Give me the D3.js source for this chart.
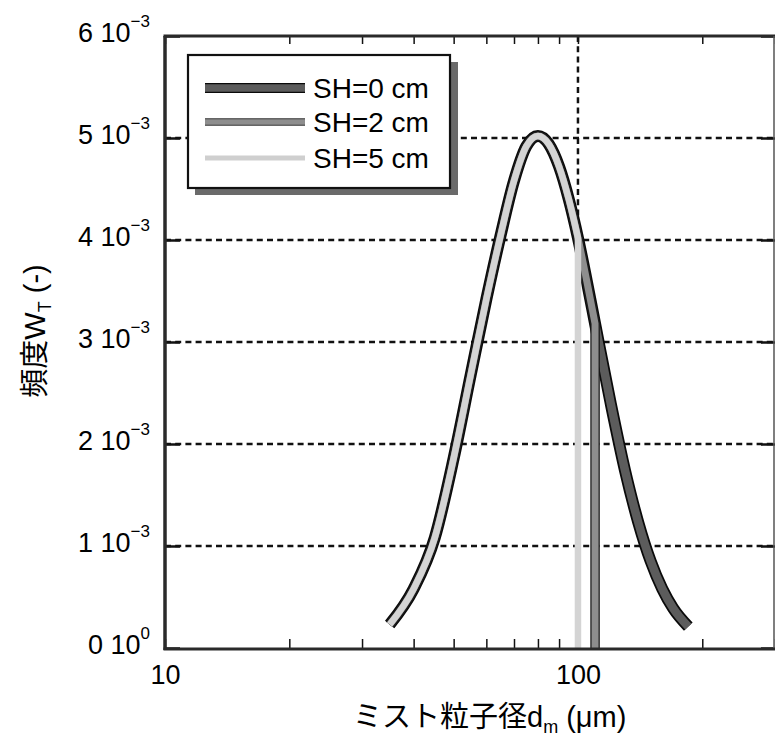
<!DOCTYPE html>
<html>
<head>
<meta charset="utf-8">
<script src="https://cdn.jsdelivr.net/npm/d3@7/dist/d3.min.js"></script>
<style>
  html, body { margin: 0; padding: 0; background: #fff; }
  svg { display: block; }
  text { font-family: "Liberation Sans", Arial, "Noto Sans CJK JP", sans-serif; fill: #000; }
</style>
</head>
<body>
<svg id="chart" width="775" height="737"></svg>
<script>
// ---- data ----
const diameters = [35, 40, 45, 50, 55, 60, 65, 70, 75, 80, 85, 90, 95, 100, 105, 110, 120, 130, 140, 150, 160, 170, 185];
const freqSH0 = [0.23, 0.58, 1.08, 1.86, 2.68, 3.42, 4.05, 4.58, 4.92, 5.02, 4.94, 4.72, 4.40, 4.02, 3.60, 3.18, 2.40, 1.74, 1.23, 0.85, 0.58, 0.39, 0.21]; // ×1e-3
const cutSH2 = 110;   // µm, SH=2 cm distribution truncated here
const cutSH5 = 100;   // µm, SH=5 cm distribution truncated here
const seriesNames = ["SH=0 cm", "SH=2 cm", "SH=5 cm"];
const xTickValues = [10, 20, 30, 40, 50, 60, 70, 80, 90, 100, 200, 300];
const xTickLabels = [10, 100];
const yTickValues = [0, 1, 2, 3, 4, 5, 6];          // ×1e-3
const yTickMantissa = ["0", "1", "2", "3", "4", "5", "6"];
const yTickExponent = ["0", "−3", "−3", "−3", "−3", "−3", "−3"];

// build series
const pts0 = diameters.map((d, i) => ({d: d, v: freqSH0[i]}));
const pts2 = pts0.filter(p => p.d <= cutSH2).concat([{d: cutSH2, v: 0}]);
const pts5 = pts0.filter(p => p.d <= cutSH5).concat([{d: cutSH5, v: 0}]);

const svg = d3.select("#chart");
svg.append("rect").attr("width", 775).attr("height", 737).attr("fill", "#fff");

const L = 165, R = 775, T = 36, B = 648;
const x = d3.scaleLog().domain([10, 300]).range([L, R]);
const y = d3.scaleLinear().domain([0, 6]).range([B, T]);

// gridlines
const grid = svg.append("g");
grid.selectAll("line.h").data([1, 2, 3, 4, 5]).enter().append("line")
  .attr("x1", L).attr("x2", R).attr("y1", d => y(d)).attr("y2", d => y(d))
  .attr("stroke", "#111").attr("stroke-width", 2.5).attr("stroke-dasharray", "6,4.2");
grid.append("line")
  .attr("x1", x(100)).attr("x2", x(100)).attr("y1", T).attr("y2", B)
  .attr("stroke", "#111").attr("stroke-width", 2.5).attr("stroke-dasharray", "6,4.2");

// axes ticks (inward)
const xb = d3.axisBottom(x).tickValues(xTickValues).tickSize(-9).tickPadding(17)
  .tickFormat(d => xTickLabels.includes(d) ? String(d) : "");
const gxb = svg.append("g").attr("transform", `translate(0,${B})`).call(xb);
gxb.select(".domain").remove();
gxb.selectAll(".tick line").attr("stroke", "#111").attr("stroke-width", 1.5);
gxb.selectAll(".tick text").attr("font-size", 27).attr("font-family", "Liberation Sans, Arial, sans-serif").attr("fill", "#000");

const xt = d3.axisTop(x).tickValues(xTickValues).tickSize(-8).tickFormat("");
const gxt = svg.append("g").attr("transform", `translate(0,${T})`).call(xt);
gxt.select(".domain").remove();
gxt.selectAll(".tick line").attr("stroke", "#111").attr("stroke-width", 1.5);

const yl = d3.axisLeft(y).tickValues(yTickValues).tickSize(-15).tickFormat("");
const gyl = svg.append("g").attr("transform", `translate(${L},0)`).call(yl);
gyl.select(".domain").remove();
gyl.selectAll(".tick line").attr("stroke", "#111").attr("stroke-width", 2.5);

const yr = d3.axisRight(y).tickValues(yTickValues).tickSize(-14).tickFormat("");
const gyr = svg.append("g").attr("transform", `translate(${R},0)`).call(yr);
gyr.select(".domain").remove();
gyr.selectAll(".tick line").attr("stroke", "#111").attr("stroke-width", 2.5);

// y tick labels with superscript
const ylab = svg.append("g");
yTickValues.forEach((v, i) => {
  const t = ylab.append("text").attr("x", 150).attr("y", y(v) + 6)
    .attr("text-anchor", "end").attr("font-size", 27);
  t.append("tspan").text(yTickMantissa[i] + " 10");
  t.append("tspan").attr("font-size", 17).attr("dy", -15).text(yTickExponent[i]);
});

// curves
const line = d3.line().x(p => x(p.d)).y(p => y(p.v)).curve(d3.curveMonotoneX);
const lineLin = d3.line().x(p => x(p.d)).y(p => y(p.v));
function pathFor(pts) {
  // smooth part plus the vertical drop (if any)
  const last = pts[pts.length - 1];
  if (last.v === 0 && pts.length > 1 && pts[pts.length - 2].d === last.d) {
    const smooth = pts.slice(0, -1);
    return line(smooth) + "L" + x(last.d) + "," + y(last.v);
  }
  return line(pts);
}
const curves = svg.append("g").attr("fill", "none").attr("stroke-linejoin", "round").attr("stroke-linecap", "butt");
curves.append("path").attr("d", pathFor(pts0)).attr("stroke", "#0a0a0a").attr("stroke-width", 12);
curves.append("path").attr("d", pathFor(pts0)).attr("stroke", "#5c5c5c").attr("stroke-width", 8.5);
curves.append("path").attr("d", pathFor(pts2)).attr("stroke", "#1a1a1a").attr("stroke-width", 9.5);
curves.append("path").attr("d", pathFor(pts2)).attr("stroke", "#8e8e8e").attr("stroke-width", 7);
curves.append("path").attr("d", pathFor(pts5)).attr("stroke", "#d4d4d4").attr("stroke-width", 6.5);

// frame
const frame = svg.append("g").attr("stroke", "#2a2a2a").attr("fill", "none");
frame.append("line").attr("x1", L - 1.5).attr("x2", R).attr("y1", T).attr("y2", T).attr("stroke-width", 3);
frame.append("line").attr("x1", L - 1.5).attr("x2", R).attr("y1", B + 1).attr("y2", B + 1).attr("stroke-width", 3);
frame.append("line").attr("x1", L).attr("x2", L).attr("y1", T).attr("y2", B + 2).attr("stroke-width", 3.5);
frame.append("line").attr("x1", R - 1).attr("x2", R - 1).attr("y1", T).attr("y2", B).attr("stroke-width", 1.5).attr("stroke", "#555");

// legend
const lg = svg.append("g");
lg.append("rect").attr("x", 195).attr("y", 62).attr("width", 263).attr("height", 133).attr("fill", "#6a6a6a");
lg.append("rect").attr("x", 188).attr("y", 55).attr("width", 262).attr("height", 133)
  .attr("fill", "#fff").attr("stroke", "#111").attr("stroke-width", 2.2);
const legY = [88, 122, 158];
const legStyles = [
  [{c: "#0a0a0a", w: 10}, {c: "#5c5c5c", w: 7.5}],
  [{c: "#333", w: 7.5}, {c: "#8e8e8e", w: 5.5}],
  [{c: "#cfcfcf", w: 5}]
];
seriesNames.forEach((name, i) => {
  legStyles[i].forEach(s => {
    lg.append("line").attr("x1", 205).attr("x2", 305).attr("y1", legY[i]).attr("y2", legY[i])
      .attr("stroke", s.c).attr("stroke-width", s.w);
  });
  lg.append("text").attr("x", 313).attr("y", legY[i] + 10).attr("font-size", 28).text(name);
});

// axis titles
const xt2 = svg.append("text").attr("x", 353).attr("y", 727).attr("font-size", 29)
  .attr("font-family", "Liberation Sans, Noto Sans CJK JP, sans-serif");
xt2.append("tspan").text("ミスト粒子径d");
xt2.append("tspan").attr("font-size", 18).attr("dy", 6).text("m");
xt2.append("tspan").attr("dy", -6).text(" (μm)");

const yt = svg.append("text").attr("transform", "translate(45,331) rotate(-90)")
  .attr("text-anchor", "middle").attr("font-size", 29)
  .attr("font-family", "Liberation Sans, Noto Sans CJK JP, sans-serif");
yt.append("tspan").text("頻度W");
yt.append("tspan").attr("font-size", 18).attr("dy", 6).text("T");
yt.append("tspan").attr("dy", -6).text(" (-)");
</script>
</body>
</html>
